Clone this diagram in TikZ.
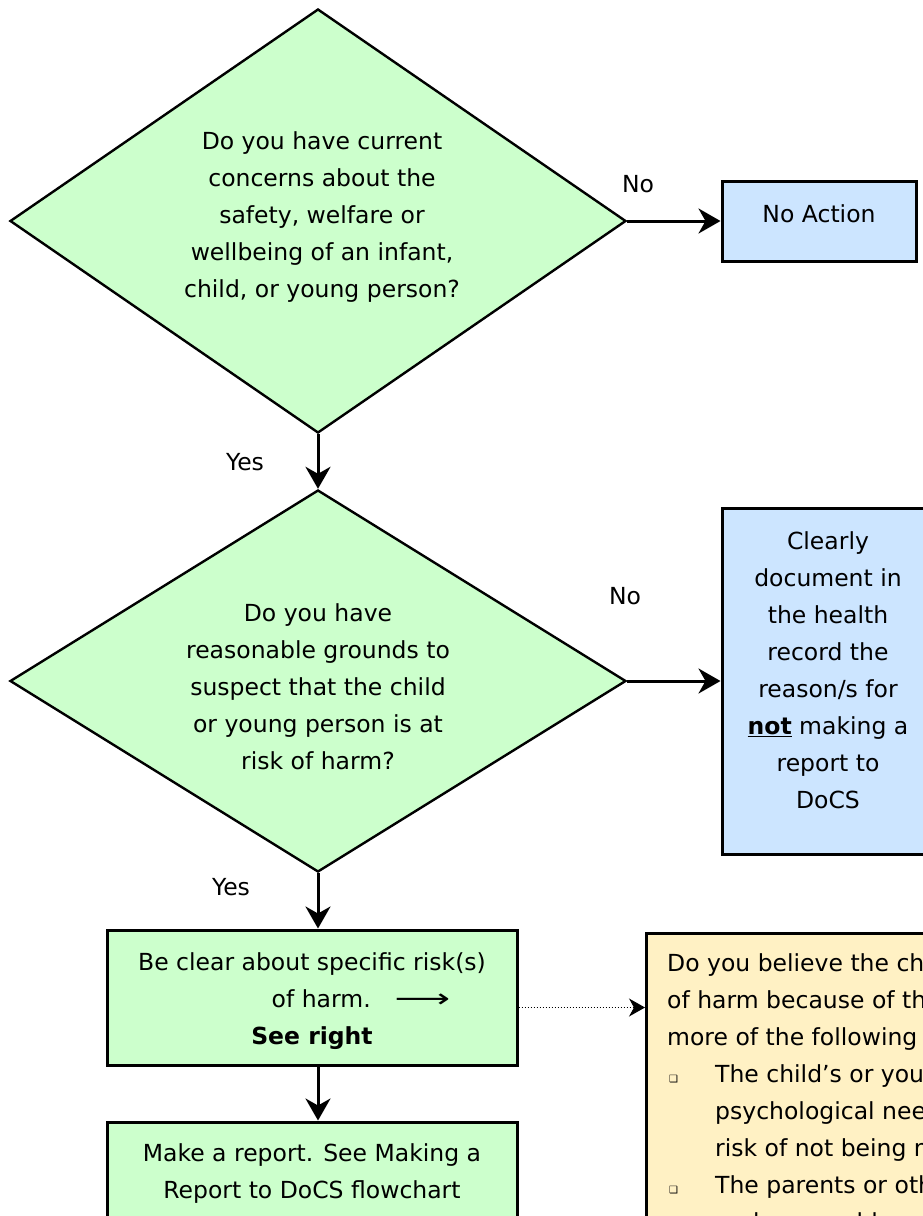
\documentclass[tikz,border=0pt]{standalone}
\usepackage{fontspec}
\setmainfont{DejaVu Sans}
\usetikzlibrary{shapes.geometric,arrows.meta}
\definecolor{grn}{RGB}{204,255,204}
\definecolor{blu}{RGB}{204,229,255}
\definecolor{ylw}{RGB}{255,241,196}
\newcommand{\sqbul}{{\fontsize{10}{10}\selectfont ❑}}
\begin{document}
\begin{tikzpicture}[x=1pt,y=-1pt,
  txt/.style={font=\fontsize{23.5}{37}\selectfont, inner sep=0pt},
  dia/.style={diamond, draw=black, line width=2.4pt, fill=grn, inner sep=0pt, align=center, txt},
  box/.style={rectangle, draw=black, line width=3pt, inner sep=0pt, align=center, txt},
  arr/.style={line width=3pt, -{Stealth[length=22pt,width=25pt,inset=7pt]}},
  dotarr/.style={line width=1pt, dotted, -{Stealth[length=16pt,width=18pt,inset=5pt]}}]
\useasboundingbox (0,0) rectangle (923,1216);
\clip (0,0) rectangle (923,1216);
\fill[white] (0,0) rectangle (923,1216);

% decisions
\node[dia, minimum width=616pt, minimum height=424pt] (q1) at (318,221) {};
\node[txt, align=center] (q1t) at (322,217)
  {Do you have current\\concerns about the\\safety, welfare or\\wellbeing of an infant,\\child, or young person?};
\node[dia, minimum width=616pt, minimum height=382pt] (q2) at (318,681) {};
\node[txt, align=center] (q2t) at (318,687)
  {Do you have\\reasonable grounds to\\suspect that the child\\or young person is at\\risk of harm?};

% outcome boxes
\node[box, fill=blu, minimum width=194pt, minimum height=80pt] (na) at (819,221) {};
\node[txt] (nat) at (819,214) {No Action};

\node[box, fill=blu, minimum width=206pt, minimum height=346pt] (doc) at (825,681) {};
\node[txt, align=center] (doct) at (828,670)
  {Clearly\\document in\\the health\\record the\\reason/s for\\\underline{\textbf{not}} making a\\report to\\DoCS};

\node[box, fill=grn, minimum width=410pt, minimum height=135pt] (b3) at (312,997.5) {};
\node[txt, align=center] (b3t) at (312,1001)
  {Be clear about specific risk(s)\\\hspace*{98pt}of harm.\hspace{24pt}\scalebox{1.65}[1.1]{⟶}\\\textbf{See right}};

\node[box, fill=grn, minimum width=410pt, minimum height=135pt] (b4) at (312,1189.5) {};
\node[txt, align=center] (b4t) at (312,1174)
  {Make a report. See Making a\\Report to DoCS flowchart};

\node[box, fill=ylw, minimum width=420pt, minimum height=400pt, anchor=north west] (yb) at (645,932) {};
\node[txt, align=left, anchor=north west] (ybt) at (667,953)
  {Do you believe the child or young person is at risk\\
   of harm because of the presence of any one or\\
   more of the following circumstances?\\
   \makebox[48pt][l]{\hspace*{2pt}\sqbul}The child’s or young person’s basic physical or\\
   \hspace*{48pt}psychological needs are not being met or are at\\
   \hspace*{48pt}risk of not being met (neglect).\\
   \makebox[48pt][l]{\hspace*{2pt}\sqbul}The parents or other caregivers have not arranged\\
   \hspace*{48pt}and are unable or unwilling to arrange for the};

% connectors
\draw[arr] (q1.east) -- (na.west);
\draw[arr] (q1.south) -- (q2.north);
\draw[arr] (q2.east) -- (doc.west);
\draw[arr] (q2.south) -- (q2.south |- b3.north);
\draw[arr] (q2.south |- b3.south) -- (q2.south |- b4.north);
\draw[dotarr] ([yshift=-10pt]b3.east) -- ([yshift=-10pt]b3.east -| yb.west);

% labels
\node[txt] (no1) at (638,184) {No};
\node[txt] (no2) at (625,596) {No};
\node[txt] (yes1) at (245,462) {Yes};
\node[txt] (yes2) at (231,887) {Yes};
\end{tikzpicture}
\end{document}
